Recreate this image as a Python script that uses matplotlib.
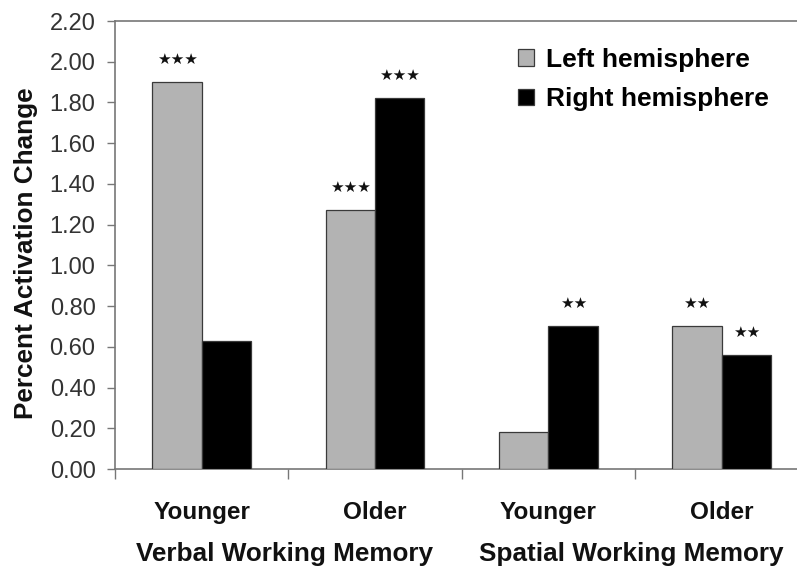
import matplotlib
matplotlib.use("Agg")
import matplotlib.pyplot as plt
import numpy as np

plt.rcParams['font.family'] = ['Liberation Sans', 'DejaVu Sans']

categories = ["Younger", "Older", "Younger", "Older"]
groups = ["Verbal Working Memory", "Spatial Working Memory"]
left_vals = [1.90, 1.27, 0.18, 0.70]
right_vals = [0.63, 1.82, 0.70, 0.56]
left_sig = ["***", "***", "", "**"]
right_sig = ["", "***", "**", "**"]
yticks = [0.0, 0.2, 0.4, 0.6, 0.8, 1.0, 1.2, 1.4, 1.6, 1.8, 2.0, 2.2]

W, H = 797, 568
fig = plt.figure(figsize=(W / 100, H / 100), dpi=100)
ax = fig.add_axes([115 / W, 1 - 469 / H, 693.5 / W, 448 / H])

x = np.arange(len(categories))
bw = 0.285
edge = '#3a3a3a'
b1 = ax.bar(x - bw / 2, left_vals, bw, color='#b3b3b3', edgecolor=edge, linewidth=0.9,
            label='Left hemisphere', zorder=3)
b2 = ax.bar(x + bw / 2, right_vals, bw, color='#000000', edgecolor=edge, linewidth=0.9,
            label='Right hemisphere', zorder=3)

def stars(s):
    return s.replace('*', '\u2605')

for bars, sigs in ((b1, left_sig), (b2, right_sig)):
    for rect, s in zip(bars, sigs):
        if s:
            ax.annotate(stars(s), (rect.get_x() + rect.get_width() / 2, rect.get_height()),
                        xytext=(0, 11), textcoords='offset points', ha='center', va='bottom',
                        fontsize=11, family='DejaVu Sans', color='#111111')

ax.set_xlim(-0.5, len(categories) - 0.5)
ax.set_ylim(0, 2.2)
ax.set_yticks(yticks)
ax.set_yticklabels([f"{v:.2f}" for v in yticks])
ax.set_xticks(x)
ax.set_xticklabels(categories, fontweight='bold', fontsize=17.5)
ax.set_xticks(np.arange(-0.5, len(categories), 1.0), minor=True)
ax.tick_params(axis='x', which='major', length=0, pad=23, colors='#111111')
ax.tick_params(axis='x', which='minor', length=7, width=1.0, color='#777777', direction='out')
ax.tick_params(axis='y', length=6, width=1.0, color='#777777', labelsize=17, pad=8,
               labelcolor='#333333')

for side in ('left', 'bottom', 'top'):
    ax.spines[side].set_color('#777777')
    ax.spines[side].set_linewidth(1.2)
ax.spines['right'].set_visible(False)

tr = ax.get_xaxis_transform()
ax.text(0.48, -0.19, groups[0], transform=tr, ha='center', va='center',
        fontsize=18.8, fontweight='bold', color='#111111')
ax.text(2.475, -0.19, groups[1], transform=tr, ha='center', va='center',
        fontsize=18.8, fontweight='bold', color='#111111')

ax.set_ylabel('Percent Activation Change', fontsize=18.8, fontweight='bold', color='#111111')
ax.yaxis.label.set_va('center')
ax.yaxis.set_label_coords((26 - 115) / 693.5, (469 - 253) / 448)

ax.legend(handles=[b1, b2], loc='upper left', bbox_to_anchor=(518 / W, 1 - 48 / H),
          bbox_transform=fig.transFigure, frameon=False, borderpad=0, borderaxespad=0,
          handlelength=0.6, handleheight=0.6, handletextpad=0.45, labelspacing=0.58,
          prop={'weight': 'bold', 'size': 19})

fig.savefig('out.png', dpi=100)
